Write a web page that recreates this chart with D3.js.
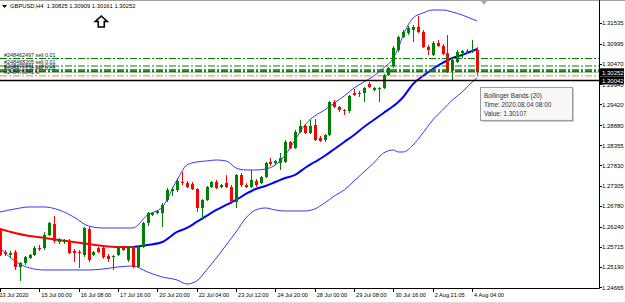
<!DOCTYPE html>
<meta charset='utf-8'>
<head>
<script src='https://d3js.org/d3.v7.min.js'></script>
<style>
  body{ margin:0; background:#fff; }
  svg{ display:block; font-family:'Liberation Sans', Arial, sans-serif; }
</style>
</head>
<body>
<svg id="chart"></svg>
<script>

  // GBPUSD H4 bars, 13 Jul 16:00 .. 4 Aug 08:00
  var open = [1.26153,1.25581,1.25503,1.25581,1.25191,1.25295,1.25425,1.25503,1.25685,1.25685,
              1.26023,1.26309,1.25841,1.25841,1.25867,1.25607,1.25581,1.25503,1.26179,1.25503,
              1.25685,1.25685,1.25477,1.25451,1.25503,1.25711,1.25373,1.25711,1.25191,1.25711,
              1.26335,1.26543,1.26595,1.26595,1.26933,1.27167,1.27193,1.27401,1.27375,1.27349,
              1.27219,1.26725,1.26933,1.27271,1.27401,1.27271,1.27375,1.27271,1.26881,1.27583,
              1.27323,1.27271,1.27427,1.27375,1.27531,1.27921,1.27895,1.27895,1.27921,1.28441,
              1.28285,1.28701,1.28857,1.28675,1.28883,1.28545,1.28493,1.28623,1.29481,1.29351,
              1.29273,1.29247,1.29715,1.29715,1.29715,1.29949,1.29793,1.29819,1.29845,1.30183,
              1.30417,1.30833,1.31171,1.31275,1.31353,1.31431,1.31301,1.30911,1.30703,1.31015,
              1.30937,1.30755,1.30287,1.30521,1.30755,1.30807,1.30781,1.30825];
  var high = [1.26205,1.25633,1.25607,1.25633,1.25321,1.25477,1.25529,1.25737,1.25763,1.26101,
              1.26361,1.26517,1.25945,1.25919,1.25919,1.25659,1.25633,1.26231,1.26231,1.25607,
              1.25711,1.25737,1.25529,1.25503,1.25737,1.25737,1.25737,1.25737,1.25737,1.26361,
              1.26621,1.26621,1.26673,1.26855,1.27245,1.27271,1.27505,1.27661,1.27427,1.27401,
              1.27245,1.26959,1.27297,1.27427,1.27453,1.27349,1.27583,1.27323,1.27609,1.27635,
              1.27375,1.27713,1.27479,1.27557,1.27921,1.28025,1.27973,1.28155,1.28493,1.28467,
              1.28753,1.29013,1.28883,1.29013,1.29039,1.28597,1.28649,1.29507,1.29533,1.29377,
              1.29299,1.29663,1.29819,1.29767,1.29871,1.30001,1.29871,1.29871,1.30209,1.30391,
              1.30937,1.31197,1.31353,1.31457,1.31483,1.31717,1.31353,1.30963,1.31067,1.31093,
              1.30989,1.31223,1.30625,1.30833,1.30833,1.30859,1.31093,1.30909];
  var low  = [1.25477,1.25477,1.25425,1.25113,1.24827,1.25243,1.25399,1.25477,1.25607,1.25633,
              1.25997,1.25815,1.25789,1.25789,1.25529,1.25321,1.25165,1.25451,1.25321,1.25477,
              1.25555,1.25399,1.25321,1.25113,1.25477,1.25607,1.25321,1.25165,1.25165,1.25685,
              1.26257,1.26517,1.26569,1.26231,1.26881,1.27037,1.27141,1.27323,1.27245,1.27193,
              1.26621,1.26413,1.26907,1.27245,1.27219,1.27245,1.27245,1.26829,1.26725,1.27271,
              1.27245,1.27245,1.27271,1.27349,1.27505,1.27817,1.27843,1.27713,1.27895,1.28259,
              1.28259,1.28675,1.28649,1.28649,1.28467,1.28441,1.28441,1.28597,1.29325,1.29221,
              1.29143,1.29195,1.29637,1.29611,1.29481,1.29845,1.29767,1.29481,1.29819,1.30157,
              1.30365,1.30781,1.31145,1.31223,1.31041,1.31275,1.30885,1.30703,1.30677,1.30911,
              1.30703,1.30235,1.30053,1.30495,1.30625,1.30729,1.30755,1.30161];
  var close = [1.25503,1.25529,1.25555,1.25191,1.25295,1.25451,1.25503,1.25685,1.25659,1.26023,
               1.26335,1.25867,1.25893,1.25867,1.25555,1.25555,1.25555,1.26205,1.25373,1.25581,
               1.25581,1.25451,1.25399,1.25477,1.25711,1.25633,1.25711,1.25191,1.25711,1.26335,
               1.26595,1.26595,1.26647,1.26803,1.27193,1.27219,1.27427,1.27375,1.27271,1.27219,
               1.26725,1.26933,1.27271,1.27401,1.27245,1.27323,1.27271,1.26881,1.27583,1.27323,
               1.27271,1.27453,1.27323,1.27531,1.27895,1.27869,1.27947,1.28025,1.28441,1.28285,
               1.28701,1.28857,1.28675,1.28857,1.28493,1.28467,1.28623,1.29481,1.29351,1.29273,
               1.29247,1.29637,1.29663,1.29689,1.29845,1.29871,1.29845,1.29845,1.30183,1.30365,
               1.30885,1.31171,1.31301,1.31405,1.31431,1.31301,1.30911,1.30833,1.31015,1.30937,
               1.30729,1.30287,1.30573,1.30781,1.30807,1.30781,1.30825,1.30252];

  var bandBars = [0,3,6,9,12,15,18,21,24,27,30,33,36,38,40,42,44,46,48,50,52,54,56,58,60,
                  62,64,66,68,70,72,74,76,78,80,81,82,84,86,88,90,92,94,96,97];
  var upperBand = [1.26621,1.26699,1.26751,1.26751,1.26673,1.26491,1.26257,1.26205,1.26205,1.26205,
                   1.26543,1.26751,1.27453,1.27843,1.27921,1.27947,1.27973,1.27947,1.27765,1.27713,
                   1.27713,1.27739,1.27843,1.28103,1.28493,1.28883,1.29117,1.29273,1.29455,1.29637,
                   1.29845,1.30001,1.30157,1.30365,1.30625,1.30885,1.31223,1.31665,1.31795,1.31873,
                   1.31873,1.31821,1.31743,1.31639,1.31587];
  var middleBand = [1.26179,1.26075,1.25997,1.25945,1.25893,1.25841,1.25789,1.25737,1.25711,1.25711,
                    1.25763,1.25841,1.26101,1.26205,1.26361,1.26517,1.26673,1.26803,1.26933,1.27089,
                    1.27219,1.27297,1.27401,1.27505,1.27583,1.27765,1.27921,1.28077,1.28259,1.28441,
                    1.28623,1.28831,1.29013,1.29195,1.29377,1.29481,1.29611,1.29949,1.30157,1.30339,
                    1.30495,1.30625,1.30703,1.30807,1.30859];
  var lowerBand = [1.25685,1.25347,1.25165,1.25113,1.25113,1.25113,1.25113,1.25139,1.25191,1.25217,
                   1.25061,1.24931,1.24853,1.24749,1.24827,1.25113,1.25425,1.25763,1.26101,1.26465,
                   1.26673,1.26725,1.26673,1.26647,1.26647,1.26647,1.26699,1.26855,1.27037,1.27193,
                   1.27427,1.27661,1.27895,1.28155,1.28233,1.28181,1.28181,1.28363,1.28675,1.29013,
                   1.29273,1.29533,1.29741,1.30001,1.30107];

  var timeTickBars = [0,8,16,24,32,40,48,56,64,72,80,88,96];
  var timeTickLabels = ["13 Jul 2020","15 Jul 00:00","16 Jul 08:00","17 Jul 16:00","20 Jul 20:00",
                        "22 Jul 04:00","23 Jul 12:00","24 Jul 20:00","28 Jul 00:00","29 Jul 08:00",
                        "30 Jul 16:00","2 Aug 21:05","4 Aug 04:00"];
  var priceTicks = [1.31535,1.30995,1.30470,1.29945,1.29420,1.28880,1.28355,
                    1.27830,1.27305,1.26780,1.26240,1.25715,1.25190,1.24665];

  // open orders and levels
  var orderPrices = [1.30612,1.30417,1.30313,1.30274];
  var orderLabels = ["#248462497 sell 0.01","#248468305 sell 0.01","#248470841 sell 0.01","#248471236 sell 0.01"];
  var stopPrice = 1.30160;
  var stopLabel = "#248470841 sl";
  var levelPrice = 1.30042;
  var bidPrice = 1.30252;

  var arrowBar = 21, arrowPrice = 1.31717;

  var width = 625, height = 303,
      plotRight = 599, plotBottom = 288.5;

  var svg = d3.select('#chart')
      .attr('width', width)
      .attr('height', height);

  var x = d3.scaleLinear().domain([0, 97]).range([0, 477]);
  var y = d3.scaleLinear().domain([1.24665, 1.31535]).range([287.2, 23.0]);

  var bull = '#008000', bear = '#ff0000';

  // window borders
  svg.append('line').attr('x1', 0).attr('x2', width).attr('y1', 0.5).attr('y2', 0.5)
    .attr('stroke', '#a0a0a0');
  svg.append('line').attr('x1', 0).attr('x2', width).attr('y1', 302.5).attr('y2', 302.5)
    .attr('stroke', '#dcdcdc');

  var plot = svg.append('g');

  // bid line
  plot.append('line')
    .attr('x1', 0).attr('x2', plotRight)
    .attr('y1', y(bidPrice)).attr('y2', y(bidPrice))
    .attr('stroke', '#c0c0c0').attr('stroke-width', 1);

  // bands
  var bandLine = function(values) {
    return d3.line()
      .x(function(d, i) { return x(bandBars[i]); })
      .y(function(d) { return y(d); })
      .curve(d3.curveMonotoneX)(values);
  };

  plot.append('path').attr('d', bandLine(upperBand))
    .attr('fill', 'none').attr('stroke', '#3535ff').attr('stroke-width', 1);
  plot.append('path').attr('d', bandLine(lowerBand))
    .attr('fill', 'none').attr('stroke', '#3535ff').attr('stroke-width', 1);

  // middle line, red while it falls, blue while it rises
  var runs = [], run = null;
  for (var k = 0; k < middleBand.length - 1; k++) {
    var c = middleBand[k + 1] <= middleBand[k] ? bear : '#0000ff';
    if (!run || run.color !== c) {
      run = { color: c, idx: [k] };
      runs.push(run);
    }
    run.idx.push(k + 1);
  }
  var midLine = d3.line()
    .x(function(i) { return x(bandBars[i]); })
    .y(function(i) { return y(middleBand[i]); })
    .curve(d3.curveMonotoneX);

  plot.selectAll('.mid')
    .data(runs)
    .enter().append('path')
      .attr('class', 'mid')
      .attr('d', function(r) { return midLine(r.idx); })
      .attr('fill', 'none')
      .attr('stroke', function(r) { return r.color; })
      .attr('stroke-width', 2);

  // candles
  var bars = d3.range(open.length);
  var candle = plot.selectAll('.candle')
    .data(bars)
    .enter().append('g')
      .attr('class', 'candle')
      .attr('shape-rendering', 'crispEdges')
      .attr('fill', function(i) { return close[i] >= open[i] ? bull : bear; })
      .attr('stroke', function(i) { return close[i] >= open[i] ? bull : bear; });

  candle.append('line')
    .attr('x1', function(i) { return Math.round(x(i)) + 0.5; })
    .attr('x2', function(i) { return Math.round(x(i)) + 0.5; })
    .attr('y1', function(i) { return y(high[i]); })
    .attr('y2', function(i) { return y(low[i]); });

  candle.append('rect')
    .attr('stroke', 'none')
    .attr('x', function(i) { return Math.round(x(i)) - 1; })
    .attr('width', 3)
    .attr('y', function(i) { return y(Math.max(open[i], close[i])); })
    .attr('height', function(i) { return Math.max(1, y(Math.min(open[i], close[i])) - y(Math.max(open[i], close[i]))); });

  // order lines
  plot.selectAll('.order')
    .data(orderPrices)
    .enter().append('line')
      .attr('class', 'order')
      .attr('x1', 0).attr('x2', plotRight)
      .attr('y1', function(d) { return y(d); })
      .attr('y2', function(d) { return y(d); })
      .attr('stroke', bull)
      .attr('stroke-width', function(d, i) { return i > 1 ? 1.4 : 1; })
      .attr('stroke-dasharray', '7,2,2,2');

  plot.append('line')
    .attr('x1', 0).attr('x2', plotRight)
    .attr('y1', y(stopPrice)).attr('y2', y(stopPrice))
    .attr('stroke', '#ff7733').attr('stroke-width', 1)
    .attr('stroke-dasharray', '7,2,2,2');

  plot.append('line')
    .attr('x1', 0).attr('x2', plotRight)
    .attr('y1', y(levelPrice)).attr('y2', y(levelPrice))
    .attr('stroke', '#000').attr('stroke-width', 1.5);

  plot.selectAll('.orderLabel')
    .data(orderPrices)
    .enter().append('text')
      .attr('class', 'orderLabel')
      .attr('x', 4)
      .attr('y', function(d) { return y(d) - 1.5; })
      .attr('font-size', 5.4)
      .attr('fill', '#222')
      .text(function(d, i) { return orderLabels[i]; });

  plot.append('text')
    .attr('x', 4).attr('y', y(stopPrice) - 1.5)
    .attr('font-size', 5.4).attr('fill', '#222')
    .text(stopLabel);

  // arrow object
  var ax = x(arrowBar) - 2, ay = y(arrowPrice);
  plot.append('path')
    .attr('d', 'M' + ax + ',' + ay + 'l6,5.5h-3v5.5h-6v-5.5h-3z')
    .attr('fill', '#fff').attr('stroke', '#000').attr('stroke-width', 1.6)
    .attr('stroke-linejoin', 'miter');

  // chart shift marker
  var sx = x(97) + 7;
  svg.append('path')
    .attr('d', 'M' + (sx - 3) + ',1h6l-3,4z')
    .attr('fill', '#a8a8a8');

  // header
  svg.append('path').attr('d', 'M2,5h5l-2.5,3z').attr('fill', '#000');
  svg.append('text')
    .attr('x', 10).attr('y', 8.3)
    .attr('font-size', 5.8).attr('fill', '#000')
    .attr('xml:space', 'preserve')
    .text('GBPUSD,H4  ' + [open[97], high[97], low[97], close[97]].map(d3.format('.5f')).join(' '));

  // axes
  var xAxis = d3.axisBottom(x)
    .tickValues(timeTickBars)
    .tickFormat(function(d, i) { return timeTickLabels[i]; })
    .tickSize(3.5)
    .tickPadding(1.5);

  var gx = svg.append('g')
    .attr('transform', 'translate(0,' + plotBottom + ')')
    .call(xAxis);
  gx.select('.domain').remove();
  gx.selectAll('line').attr('stroke', '#000').attr('shape-rendering', 'crispEdges');
  gx.selectAll('text')
    .attr('text-anchor', 'start')
    .attr('x', function(d, i) { return i === 0 ? -1 : 1.5; })
    .attr('font-size', 5.6)
    .attr('font-family', "'Liberation Sans', Arial, sans-serif")
    .attr('fill', '#000');

  var yAxis = d3.axisRight(y)
    .tickValues(priceTicks)
    .tickFormat(d3.format('.5f'))
    .tickSize(3)
    .tickPadding(0);

  var gy = svg.append('g')
    .attr('transform', 'translate(' + plotRight + ',0)')
    .call(yAxis);
  gy.select('.domain').remove();
  gy.selectAll('line').attr('stroke', '#000').attr('shape-rendering', 'crispEdges');
  gy.selectAll('text')
    .attr('font-size', 6)
    .attr('font-family', "'Liberation Sans', Arial, sans-serif")
    .attr('fill', '#000');

  // frame
  svg.append('line')
    .attr('x1', 0).attr('x2', plotRight + 0.5)
    .attr('y1', plotBottom).attr('y2', plotBottom)
    .attr('stroke', '#000');
  svg.append('line')
    .attr('x1', plotRight + 0.5).attr('x2', plotRight + 0.5)
    .attr('y1', 0).attr('y2', plotBottom)
    .attr('stroke', '#000');

  // price boxes on the scale
  var boxes = svg.selectAll('.pbox')
    .data([levelPrice, bidPrice])
    .enter().append('g')
      .attr('class', 'pbox')
      .attr('transform', function(d) { return 'translate(' + (plotRight + 1) + ',' + y(d) + ')'; });
  boxes.append('rect')
    .attr('x', 0).attr('y', -4).attr('width', 24).attr('height', 8)
    .attr('fill', '#000');
  boxes.append('text')
    .attr('x', 2).attr('y', 2.2)
    .attr('font-size', 6).attr('fill', '#fff')
    .text(d3.format('.5f'));

  // tooltip
  var tipX = x(97) + 3, tipY = y(lowerBand[lowerBand.length - 1]) + 9;
  var tip = svg.append('g').attr('transform', 'translate(' + tipX + ',' + tipY + ')');
  tip.append('rect').attr('x', 2).attr('y', 2).attr('width', 92).attr('height', 33)
    .attr('fill', '#c8c8c8');
  tip.append('rect').attr('x', 0.5).attr('y', 0.5).attr('width', 92).attr('height', 33)
    .attr('fill', '#f8f8f8').attr('stroke', '#9a9a9a');
  tip.selectAll('text')
    .data(['Bollinger Bands (20)', 'Time: 2020.08.04 08:00', 'Value: ' + d3.format('.5f')(lowerBand[lowerBand.length - 1])])
    .enter().append('text')
      .attr('x', 4)
      .attr('y', function(d, i) { return 11 + i * 9; })
      .attr('font-size', 6.4)
      .attr('fill', '#333')
      .text(function(d) { return d; });

</script>
</body>
</html>
